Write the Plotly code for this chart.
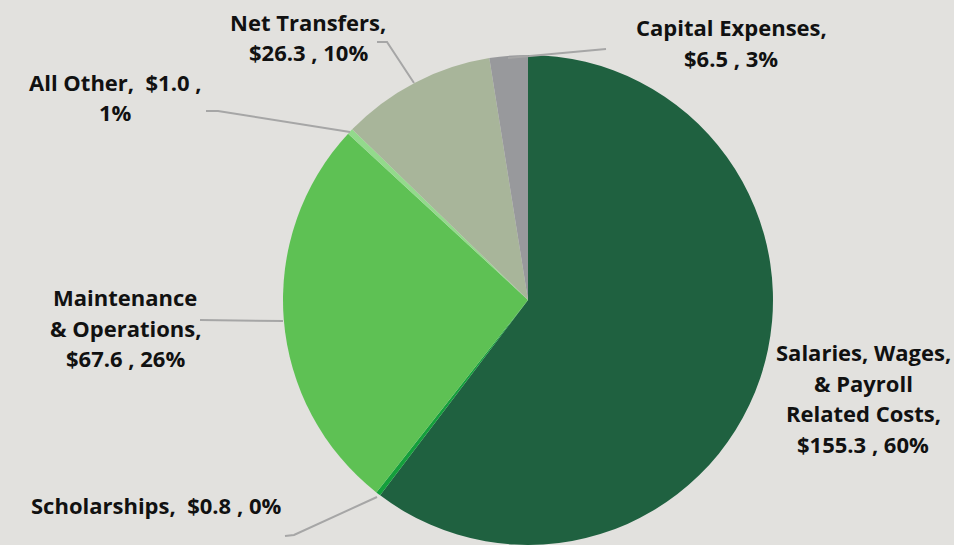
import plotly.graph_objects as go

W, H = 954, 545

categories = ["Salaries, Wages, & Payroll Related Costs", "Scholarships", "Maintenance & Operations",
              "All Other", "Net Transfers", "Capital Expenses"]
values = [155.3, 0.8, 67.6, 1.0, 26.3, 6.5]
percents = [60, 0, 26, 1, 10, 3]
label_texts = [
    "Salaries, Wages,<br>& Payroll<br>Related Costs,<br>${v} , {p}%",
    "Scholarships,  ${v} , {p}%",
    "Maintenance<br>& Operations,<br>${v} , {p}%",
    "All Other,  ${v} ,<br>{p}%",
    "Net Transfers,<br>${v} , {p}%",
    "Capital Expenses,<br>${v} , {p}%",
]
colors = ["#1F6140", "#14A03C", "#5EC154", "#93DA8C", "#A8B59A", "#98999C"]

# label placement (pixel centre x, first-line centre y) and leader lines (pixel polylines)
label_pos = [(863, 352), (156, 505), (125, 297), (115, 82), (308, 22), (731, 27)]
line_gap = 30.5
leaders = [
    None,
    [(285, 536), (294, 535), (377, 497)],
    [(200, 320), (283, 321)],
    [(206, 111), (218, 111), (350, 132)],
    [(377, 42), (387, 42), (414, 83)],
    [(508, 58), (606, 49)],
]

def px(x):
    return x / W

def py(y):
    return 1 - y / H

cx, cy, r = 528, 300, 245

fig = go.Figure(go.Pie(
    labels=categories,
    values=values,
    sort=False,
    direction="clockwise",
    rotation=0,
    marker=dict(colors=colors, line=dict(width=0)),
    textinfo="none",
    hoverinfo="label+value+percent",
    domain=dict(x=[px(cx - r), px(cx + r)], y=[py(cy + r), py(cy - r)]),
    showlegend=False,
))

annotations = []
for txt, v, p, (x, y) in zip(label_texts, values, percents, label_pos):
    lines = txt.format(v=f"{v:.1f}", p=p).split("<br>")
    for i, ln in enumerate(lines):
        annotations.append(dict(
            x=px(x), y=py(y + i * line_gap), xref="paper", yref="paper",
            text="<b>" + ln.replace("  ", "&nbsp; ") + "</b>",
            showarrow=False, xanchor="center", yanchor="middle", align="center",
            font=dict(family="Open Sans, sans-serif", size=22, color="#111111"),
        ))

shapes = []
for pts in leaders:
    if not pts:
        continue
    path = "M " + " L ".join(f"{px(x)},{py(y)}" for x, y in pts)
    shapes.append(dict(type="path", path=path, xref="paper", yref="paper",
                       line=dict(color="#A6A6A6", width=2)))

fig.update_layout(
    width=W, height=H,
    margin=dict(l=0, r=0, t=0, b=0),
    paper_bgcolor="#E2E1DE",
    plot_bgcolor="#E2E1DE",
    annotations=annotations,
    shapes=shapes,
)

fig.write_html("out.html", config={"displayModeBar": False},
               post_script="document.body.style.margin='0';document.body.style.background='#E2E1DE';")
